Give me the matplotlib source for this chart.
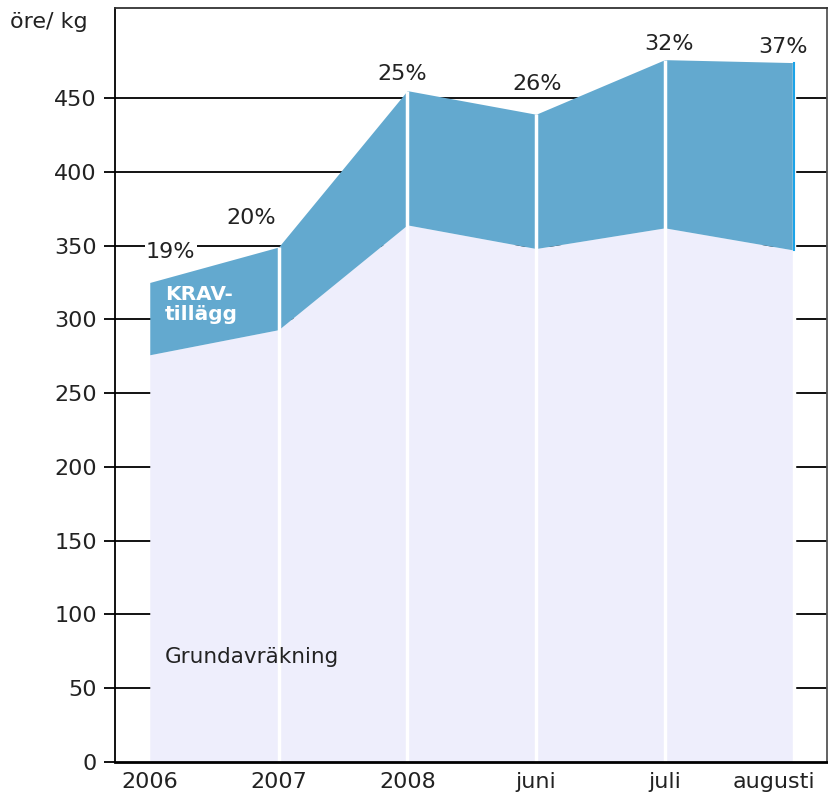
import matplotlib.pyplot as plt
from matplotlib.transforms import ScaledTranslation
import numpy as np

# data (öre/kg)
periods = ['2006', '2007', '2008', 'juni', 'juli', 'augusti']
grund = [276, 293, 364, 348, 362, 347]
total = [325, 349, 455, 439, 476, 474]
krav_pct = ['19%', '20%', '25%', '26%', '32%', '37%']
yticks = list(range(0, 451, 50))

# label offsets in pixels from the top of each point
pct_dx = [21, -27, -5, 1, 4, -11]
pct_dy = [30, 29, 17, 30, 16, 16]

BLUE = '#63a9cf'
LAV = '#eeeefc'
INK = '#222222'

plt.rcParams['font.family'] = 'DejaVu Sans'
fig = plt.figure(figsize=(8.29, 7.97), dpi=100)
ax = fig.add_axes([115/829, 35/797, 712/829, 754/797])

x = np.arange(len(periods))

# grid behind the areas
for v in yticks[1:]:
    ax.axhline(v, color='black', lw=1.3, zorder=0)

ax.fill_between(x, 0, grund, color=LAV, lw=0, zorder=1)
ax.fill_between(x, grund, total, color=BLUE, lw=0, zorder=1)

# white separators at each period
for xi, t in zip(x[1:], total[1:]):
    ax.plot([xi, xi], [0, t], color='white', lw=2.5, zorder=2, solid_capstyle='butt')
ax.plot([x[-1], x[-1]], [grund[-1], total[-1]], color='#1aa3e8', lw=1.5, zorder=2)

for xi, t, lab, dx, dy in zip(x, total, krav_pct, pct_dx, pct_dy):
    ax.annotate(lab, (xi, t), xytext=(dx, dy), textcoords='offset pixels',
                ha='center', va='center', fontsize=16, color=INK, zorder=3,
                bbox=dict(facecolor='white', edgecolor='none', pad=1))

ax.text(0.12, 323, 'KRAV-\ntillägg', color='white', fontsize=14.5, fontweight='bold',
        ha='left', va='top', linespacing=1.05, zorder=3)
ax.text(0.12, 71, 'Grundavräkning', color=INK, fontsize=15.5,
        ha='left', va='center', zorder=3)

ax.set_xlim(-0.27, 5.26)
ax.set_ylim(0, 511)
ax.set_yticks(yticks)
ax.set_yticklabels([str(v) for v in yticks], fontsize=16, color=INK)
ax.set_xticks(x)
ax.set_xticklabels(periods, fontsize=16, color=INK)
ax.tick_params(axis='y', direction='out', length=8, width=1.3, pad=5)
ax.tick_params(axis='x', length=0, pad=7)
last = ax.get_xticklabels()[-1]
last.set_transform(last.get_transform() + ScaledTranslation(-0.2, 0, fig.dpi_scale_trans))

for s in ['top', 'right', 'left']:
    ax.spines[s].set_linewidth(1.3)
ax.spines['bottom'].set_linewidth(2)
ax.spines['top'].set_color('#333333')
ax.spines['right'].set_color('#555555')

fig.text(10/829, 1 - 22/797, 'öre/ kg', fontsize=16, color=INK, va='center', ha='left')

plt.savefig('out.png', dpi=100)
